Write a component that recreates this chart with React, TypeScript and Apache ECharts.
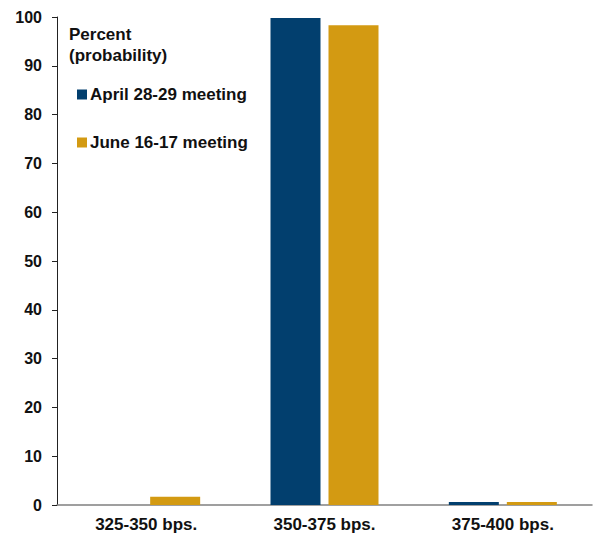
import React, { useEffect, useRef } from "react";
import * as echarts from "echarts";

const categories = ["325-350 bps.", "350-375 bps.", "375-400 bps."];
const aprilMeeting = [0, 99.8, 0.6];
const juneMeeting = [1.7, 98.3, 0.6];
const seriesNames = ["April 28-29 meeting", "June 16-17 meeting"];
const yTicks = { min: 0, max: 100, interval: 10 };

const BLUE = "#023F6E";
const GOLD = "#D39A12";
const FONT = "'Liberation Sans', Arial, sans-serif";

export default function App() {
  const ref = useRef<HTMLDivElement>(null);

  useEffect(() => {
    if (!ref.current) return;
    const chart = echarts.init(ref.current, null, { renderer: "svg" });
    chart.setOption({
      animation: false,
      backgroundColor: "#ffffff",
      textStyle: { fontFamily: FONT },
      title: {
        text: "Percent\n(probability)",
        left: 69,
        top: 24,
        padding: 0,
        textStyle: {
          fontFamily: FONT,
          fontSize: 17,
          fontWeight: "bold",
          color: "#111",
          lineHeight: 21,
        },
      },
      legend: {
        orient: "vertical",
        left: 77,
        top: 86,
        padding: 0,
        icon: "rect",
        itemWidth: 10,
        itemHeight: 10,
        itemGap: 31,
        data: seriesNames,
        textStyle: {
          fontFamily: FONT,
          fontSize: 17,
          fontWeight: "bold",
          color: "#111",
          lineHeight: 17,
          padding: [0, 0, 0, -2],
        },
      },
      grid: { left: 57, right: 5, top: 17, bottom: 33, containLabel: false },
      xAxis: {
        type: "category",
        data: categories,
        axisLine: { show: true, lineStyle: { color: "#808080", width: 1.5 } },
        axisTick: { show: false },
        axisLabel: {
          fontFamily: FONT,
          fontSize: 17,
          fontWeight: "bold",
          color: "#111",
          margin: 11,
        },
      },
      yAxis: {
        type: "value",
        min: yTicks.min,
        max: yTicks.max,
        interval: yTicks.interval,
        splitLine: { show: false },
        axisLine: { show: true, lineStyle: { color: "#222", width: 1 } },
        axisTick: { show: true, length: 5, lineStyle: { color: "#222" } },
        axisLabel: {
          fontFamily: FONT,
          fontSize: 16,
          fontWeight: "bold",
          color: "#111",
          margin: 15,
        },
      },
      series: [
        {
          name: seriesNames[0],
          type: "bar",
          data: aprilMeeting,
          barWidth: 50,
          barGap: "16%",
          itemStyle: { color: BLUE },
        },
        {
          name: seriesNames[1],
          type: "bar",
          data: juneMeeting,
          barWidth: 50,
          barGap: "16%",
          itemStyle: { color: GOLD },
        },
      ],
    });
    return () => chart.dispose();
  }, []);

  return (
    <div
      ref={ref}
      style={{ position: "fixed", left: 0, top: 0, width: 597, height: 538 }}
    />
  );
}
